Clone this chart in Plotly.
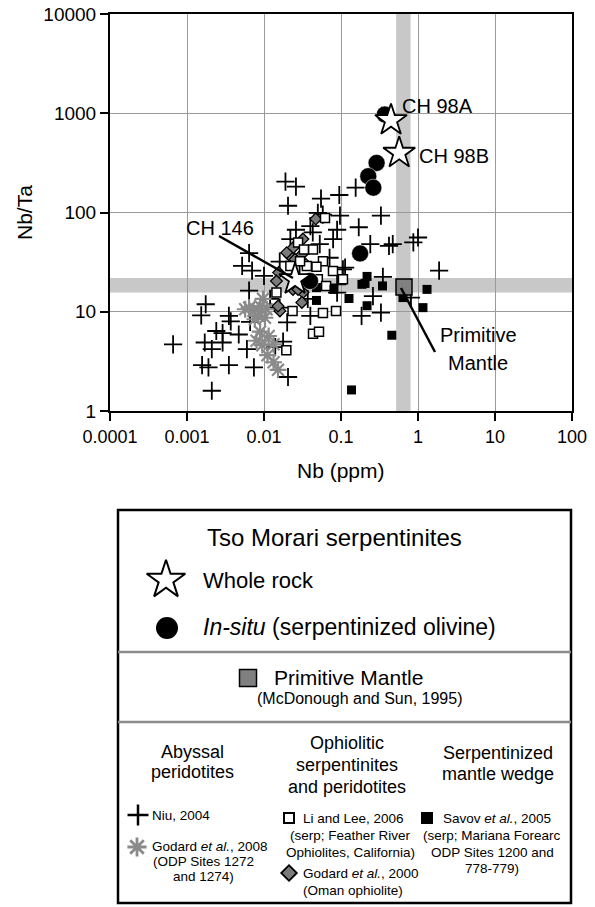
import plotly.graph_objects as go

# ---------------- data (Nb ppm, Nb/Ta) ----------------
niu_nb = [0.019, 0.026, 0.0205, 0.026, 0.0064, 0.0052, 0.007, 0.010, 0.0064, 0.016,
          0.00175, 0.00153, 0.00066, 0.0035, 0.0037, 0.0024, 0.0029, 0.0047, 0.0066, 0.0017,
          0.0021, 0.0029, 0.006, 0.00157, 0.0019, 0.0035, 0.0074, 0.0021, 0.0205, 0.0177,
          0.020, 0.014, 0.055, 0.095, 0.155, 0.097, 0.050, 0.040, 0.089, 0.022,
          0.079, 0.17, 0.33, 0.24, 0.42, 0.47, 0.87, 1.0, 1.88, 0.113,
          0.089, 0.089, 0.26, 0.185, 0.33, 0.35, 0.81, 0.040, 0.106, 0.058,
          0.043, 0.037, 0.016, 0.029, 0.034, 0.012, 0.053, 0.071]
niu_nbta = [205, 182, 117, 67, 39, 29, 26, 23, 16.3, 32,
            11.9, 9.2, 4.7, 9.1, 8.0, 6.4, 6.1, 5.9, 7.9, 4.9,
            4.2, 4.9, 4.2, 2.9, 2.75, 2.9, 2.75, 1.6, 2.2, 5.0,
            7.8, 4.4, 138, 150, 178, 93, 99, 73, 67, 54,
            54, 71, 93, 48, 46, 48, 50, 56, 26, 27.8,
            18.9, 15.6, 14.4, 9.1, 9.8, 22.5, 13.9, 9.1, 26.7, 95,
            63, 13.5, 11.0, 30, 18.9, 13.5, 48, 35]

god08_nb = [0.0073, 0.0089, 0.0108, 0.0084, 0.0103, 0.0057, 0.0064, 0.0089, 0.0115,
            0.0095, 0.0133, 0.0111, 0.0133, 0.0152, 0.0080, 0.0097, 0.0076]
god08_nbta = [10.2, 11.4, 10.6, 9.1, 8.7, 10.6, 11.0, 6.3, 5.7,
              4.6, 4.7, 3.65, 3.1, 2.6, 5.1, 13.5, 8.4]

god00_nb = [0.047, 0.032, 0.0238, 0.0218, 0.0253, 0.035, 0.0155, 0.0145, 0.0238,
            0.0321, 0.031, 0.0161, 0.031, 0.0277, 0.0152, 0.0197]
god00_nbta = [86, 54, 44, 36.4, 33.7, 30, 24.8, 20.4, 16.8,
              15.6, 12.4, 10.2, 37.8, 16.8, 11.4, 39.4]

lilee_nb = [0.062, 0.0277, 0.0433, 0.033, 0.0583, 0.0787, 0.106, 0.048, 0.022, 0.0145,
            0.0235, 0.0583, 0.0861, 0.0433, 0.0518, 0.0195, 0.05, 0.064, 0.036, 0.0294]
lilee_nbta = [88, 50, 42.5, 42.5, 32.2, 25.7, 21.2, 28.4, 28.9, 15.6,
              10.2, 9.7, 10.2, 6.0, 6.3, 4.1, 21.2, 18.2, 28.9, 32.2]

savov_nb = [0.048, 0.048, 0.081, 0.127, 0.205, 0.218, 0.187, 0.346, 0.218, 0.638,
            1.31, 1.16, 0.457, 0.137]
savov_nbta = [17.5, 13.0, 16.8, 13.6, 19.3, 22.7, 18.9, 18.2, 11.5, 13.9,
              16.8, 11.0, 5.8, 1.63]

insitu_nb = [0.37, 0.29, 0.226, 0.263, 0.177, 0.0396]
insitu_nbta = [970, 316, 232, 178, 38.7, 20.4]

wr_nb = [0.446, 0.57, 0.0253]
wr_nbta = [850, 398, 21.2]
wr_labels = ["CH 98A", "CH 98B", "CH 146"]

pm_nb = [0.658]
pm_nbta = [17.8]

pm_band_nb = [0.52, 0.80]
pm_band_nbta = [15.6, 21.9]

x_tickvals = [0.0001, 0.001, 0.01, 0.1, 1, 10, 100]
x_ticktext = ["0.0001", "0.001", "0.01", "0.1", "1", "10", "100"]
y_tickvals = [1, 10, 100, 1000, 10000]
y_ticktext = ["1", "10", "100", "1000", "10000"]

# ---------------- figure ----------------
W, H = 595, 907
FONT = "Liberation Sans, Arial, Helvetica, sans-serif"
PX_L, PX_R, PX_T, PX_B = 110, 572, 14, 411

fig = go.Figure()

def add(nb, nbta, name, **marker):
    fig.add_trace(go.Scatter(x=nb, y=nbta, mode="markers", name=name,
                             marker=marker, showlegend=False, hoverinfo="x+y+name"))

add(niu_nb, niu_nbta, "Niu, 2004", symbol="cross-thin", size=13,
    color="black", line=dict(color="black", width=1.8))
add(god08_nb, god08_nbta, "Godard et al., 2008", symbol="asterisk", size=14,
    color="#8a8a8a", line=dict(color="#8a8a8a", width=2.2))
add(god00_nb, god00_nbta, "Godard et al., 2000", symbol="diamond", size=9,
    color="#7a7a7a", line=dict(color="black", width=1.3))
add(lilee_nb, lilee_nbta, "Li and Lee, 2006", symbol="square", size=9,
    color="white", line=dict(color="black", width=1.5))
add(savov_nb, savov_nbta, "Savov et al., 2005", symbol="square", size=9,
    color="black", line=dict(color="black", width=0))
add(insitu_nb, insitu_nbta, "In-situ", symbol="circle", size=17,
    color="black", line=dict(color="white", width=0.5))
add(pm_nb, pm_nbta, "Primitive Mantle", symbol="square", size=16,
    color="#808080", line=dict(color="black", width=1.5))
add(wr_nb, wr_nbta, "Whole rock", symbol="star", size=24,
    color="white", line=dict(color="black", width=1.8))

# primitive mantle bands
fig.add_shape(type="rect", xref="x", yref="paper", x0=pm_band_nb[0], x1=pm_band_nb[1],
              y0=1 - PX_B / H, y1=1 - PX_T / H, fillcolor="#c8c8c8", line_width=0, layer="below")
fig.add_shape(type="rect", xref="paper", yref="y", x0=PX_L / W, x1=PX_R / W,
              y0=pm_band_nbta[0], y1=pm_band_nbta[1], fillcolor="#c8c8c8", line_width=0, layer="below")

axis_common = dict(type="log", showline=True, linecolor="black", linewidth=2, mirror=True,
                   ticks="outside", ticklen=8, tickwidth=2, tickcolor="black",
                   showgrid=True, gridcolor="#9a9a9a", gridwidth=1.3, zeroline=False,
                   fixedrange=True, automargin=False)
fig.update_layout(
    width=W, height=H, autosize=False,
    margin=dict(l=0, r=0, t=0, b=0, pad=0, autoexpand=False),
    paper_bgcolor="white", plot_bgcolor="rgba(0,0,0,0)",
    font=dict(family=FONT, color="black"),
    showlegend=False,
    xaxis=dict(domain=[PX_L / W, PX_R / W], range=[-4, 2], tickvals=x_tickvals,
               ticktext=x_ticktext, tickfont=dict(size=18), anchor="y", **axis_common),
    yaxis=dict(domain=[1 - PX_B / H, 1 - PX_T / H], range=[0, 4], tickvals=y_tickvals,
               ticktext=y_ticktext, tickfont=dict(size=19), anchor="x", **axis_common),
    # overlay pixel-space axes for labels and the key
    xaxis2=dict(domain=[0, 1], range=[0, W], visible=False, anchor="y2",
                fixedrange=True, automargin=False),
    yaxis2=dict(domain=[0, 1], range=[H, 0], visible=False, anchor="x2",
                fixedrange=True, automargin=False),
)

ann = []
def txt(x, y, s, size, xanchor="center", **kw):
    ann.append(dict(x=x, y=y, xref="x2", yref="y2", text=s, showarrow=False,
                    xanchor=xanchor, yanchor="middle", font=dict(size=size, family=FONT, color="black"), **kw))

# axis titles
txt(341, 470, "Nb (ppm)", 21)
txt(24, 213, "Nb/Ta", 21, textangle=-90)

# point labels
txt(400, 106, wr_labels[0], 20, xanchor="left")
txt(417, 156, wr_labels[1], 20, xanchor="left")
txt(220, 228, wr_labels[2], 20)
txt(478, 335, "Primitive", 20)
txt(478, 363, "Mantle", 20)

shapes = []
def line(x0, y0, x1, y1, color="black", width=2.5):
    shapes.append(dict(type="line", xref="x2", yref="y2", x0=x0, y0=y0, x1=x1, y1=y1,
                       line=dict(color=color, width=width)))

line(219, 236, 293, 278)
line(401, 288, 435, 352)

# key box
shapes.append(dict(type="rect", xref="x2", yref="y2", x0=118, y0=510, x1=571, y1=903,
                   line=dict(color="black", width=2.5)))
line(118, 652, 571, 652, color="#8c8c8c", width=2.5)
line(118, 722, 571, 722, color="#8c8c8c", width=2.5)

txt(334, 537, "Tso Morari serpentinites", 24)
txt(201, 580, "Whole rock", 22, xanchor="left")
txt(201, 627, "<i>In-situ</i> (serpentinized olivine)", 23, xanchor="left")
txt(272, 677, "Primitive Mantle", 21, xanchor="left")
txt(359, 698, "(McDonough and Sun, 1995)", 16)

txt(192, 752, "Abyssal", 18)
txt(192, 772, "peridotites", 18)
txt(347, 743, "Ophiolitic", 18)
txt(347, 765, "serpentinites", 18)
txt(347, 787, "and peridotites", 18)
txt(498, 753, "Serpentinized", 18)
txt(498, 774, "mantle wedge", 18)

SM = 13.5
txt(150, 815, "Niu, 2004", SM, xanchor="left")
txt(150, 846, "Godard <i>et al.</i>, 2008", SM, xanchor="left")
txt(203, 861, "(ODP Sites 1272", SM)
txt(203, 876, "and 1274)", SM)
txt(301, 818, "Li and Lee, 2006", SM, xanchor="left")
txt(350, 835, "(serp; Feather River", SM)
txt(350, 852, "Ophiolites, California)", SM)
txt(301, 873, "Godard <i>et al.</i>, 2000", SM, xanchor="left")
txt(353, 890, "(Oman ophiolite)", SM)
txt(441, 818, "Savov <i>et al.</i>, 2005", SM, xanchor="left")
txt(492, 835, "(serp; Mariana Forearc", SM)
txt(492, 852, "ODP Sites 1200 and", SM)
txt(492, 868, "778-779)", SM)

# key symbols (pixel-space overlay)
def key(x, y, **marker):
    fig.add_trace(go.Scatter(x=[x], y=[y], xaxis="x2", yaxis="y2", mode="markers",
                             marker=marker, showlegend=False, hoverinfo="skip",
                             cliponaxis=False))

key(166, 580, symbol="star", size=29, color="white", line=dict(color="black", width=2))
key(167, 628, symbol="circle", size=22, color="black")
key(248, 678, symbol="square", size=17, color="#808080", line=dict(color="black", width=1.5))
key(138, 815, symbol="cross-thin", size=15, line=dict(color="black", width=2.5))
key(137, 847, symbol="asterisk", size=16, line=dict(color="#8a8a8a", width=2.8))
key(289, 818, symbol="square", size=10, color="white", line=dict(color="black", width=2))
key(289, 873, symbol="diamond", size=12, color="#7a7a7a", line=dict(color="black", width=1.8))
key(427, 818, symbol="square", size=12, color="black")

fig.update_layout(annotations=ann, shapes=fig.layout.shapes + tuple(shapes))
fig.write_html("out.html")
